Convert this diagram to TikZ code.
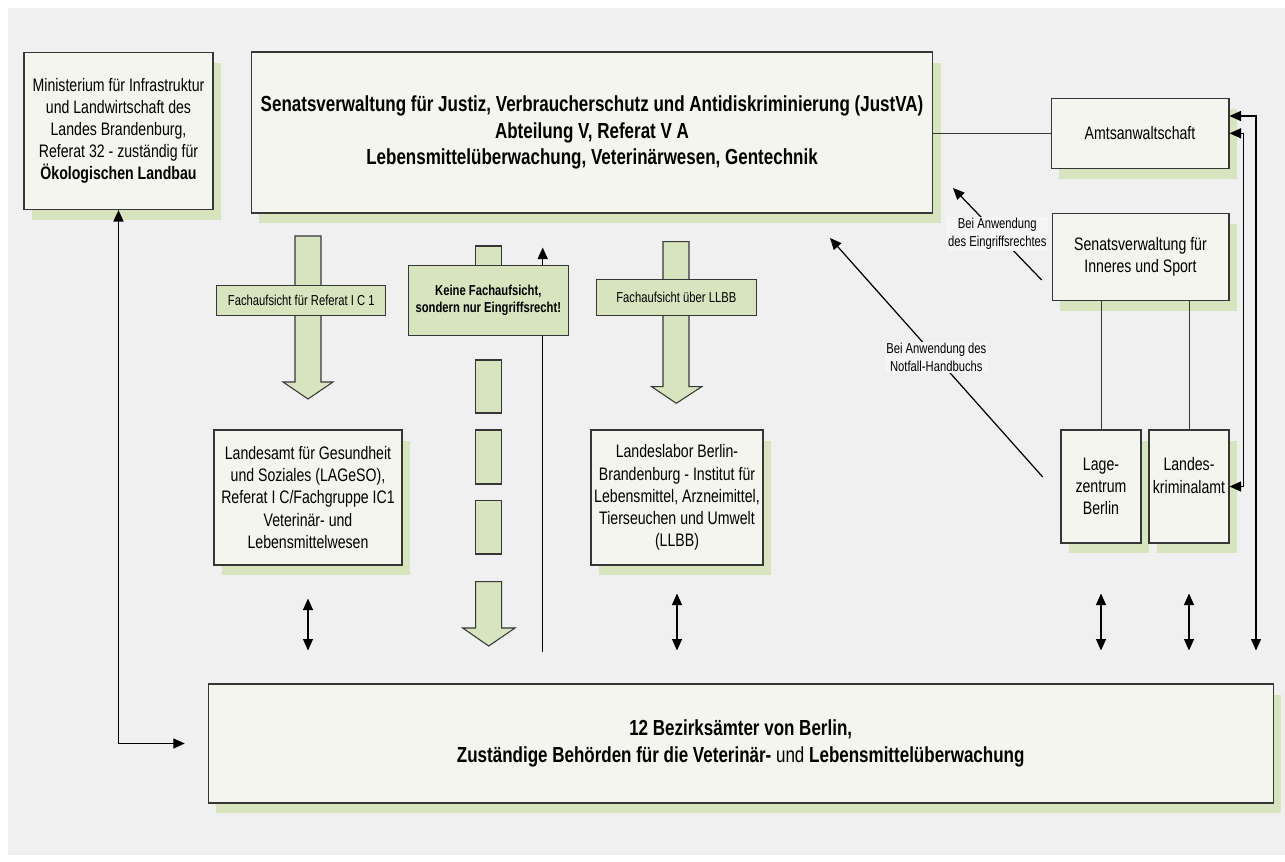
\documentclass[tikz,border=0pt]{standalone}
\usepackage{fontspec}
\setmainfont{Liberation Sans}[FakeStretch=0.78]
\usetikzlibrary{arrows.meta}
\usetikzlibrary{shadows}

\definecolor{bggray}{HTML}{F0F0F0}
\definecolor{notebg}{HTML}{F5F5F5}
\definecolor{boxfill}{HTML}{F4F5EF}
\definecolor{boxline}{HTML}{363636}
\definecolor{shadowgreen}{HTML}{D7E4BD}
\definecolor{arrowgreen}{HTML}{D7E4BD}

\newcommand{\boxfont}{\fontsize{10.3}{12.6}\selectfont}
\newcommand{\lblfont}{\fontsize{8.2}{10}\selectfont}
\newcommand{\headfont}{\fontsize{12.4}{15}\selectfont\bfseries}

\begin{document}
\begin{tikzpicture}[x=0.02cm, y=-0.02cm,
    >={Triangle[length=2.3mm, width=2mm]},
    box/.style={draw=boxline, fill=boxfill, line width=0.6pt, align=center, inner sep=1pt, font=\boxfont,
      general shadow={fill=shadowgreen, shadow xshift=0.16cm, shadow yshift=-0.21cm}},
    tag/.style={draw=boxline, fill=arrowgreen, line width=0.6pt, align=center, inner sep=1pt, font=\lblfont},
    blockarrow/.style={draw=boxline, fill=arrowgreen, line width=0.6pt},
    conn/.style={line width=0.8pt},
    dbl/.style={line width=0.6pt, <->},
    plain/.style={line width=0.5pt, draw=boxline},
    note/.style={font=\lblfont, align=center, fill=notebg, inner sep=1pt}]

      \useasboundingbox (0,0) rectangle (1285,862);
      \fill[bggray] (8,8) rectangle (1285,855);

      % offices
      \node[box, minimum width=3.78cm, minimum height=3.14cm] (min) at (118.5,131) {Ministerium für Infrastruktur\\und Landwirtschaft des\\Landes Brandenburg,\\Referat 32 - zuständig für\\\textbf{Ökologischen Landbau}};
      \node[box, minimum width=13.64cm, minimum height=3.22cm, font=\headfont] (just) at (592,132.5) {Senatsverwaltung für Justiz, Verbraucherschutz und Antidiskriminierung (JustVA)\\Abteilung V, Referat V A\\Lebensmittelüberwachung, Veterinärwesen, Gentechnik};
      \node[box, minimum width=3.56cm, minimum height=1.4cm] (amts) at (1140,133.3) {Amtsanwaltschaft};
      \node[box, minimum width=3.54cm, minimum height=1.74cm] (inneres) at (1140.5,256.7) {Senatsverwaltung für\\Inneres und Sport};
      \node[box, minimum width=1.6cm, minimum height=2.26cm] (lage) at (1101,486.5) {Lage-\\zentrum\\Berlin};
      \node[box, minimum width=1.6cm, minimum height=2.26cm] (lka) at (1189,486.5) {Landes-\\kriminalamt\\\mbox{}};
      \node[box, minimum width=3.76cm, minimum height=2.7cm] (lageso) at (308,497.5) {Landesamt für Gesundheit\\und Soziales (LAGeSO),\\Referat I C/Fachgruppe IC1\\Veterinär- und\\Lebensmittelwesen};
      \node[box, minimum width=3.44cm, minimum height=2.7cm] (llbb) at (677,497.5) {Landeslabor Berlin-\\Brandenburg - Institut für\\Lebensmittel, Arzneimittel,\\Tierseuchen und Umwelt\\(LLBB)};
      \node[box, minimum width=21.3cm, minimum height=2.38cm, font=\headfont] (bezirk) at (740.7,743.5) {12 Bezirksämter von Berlin,\\Zuständige Behörden für die Veterinär- {\mdseries und} Lebensmittelüberwachung};

      % Fachaufsicht arrows
      \draw[blockarrow] (295,236) -- (321,236) -- (321,382) -- (333,382) -- (308,399) -- (283,382) -- (295,382) -- cycle;
      \node[tag, minimum width=3.38cm, minimum height=0.59cm] (fa1) at (301.3,300.3) {Fachaufsicht für Referat I C 1};
      \draw[blockarrow] (663,241.7) -- (689,241.7) -- (689,386.7) -- (701.7,386.7) -- (676.3,403.3) -- (651.7,386.7) -- (663,386.7) -- cycle;
      \node[tag, minimum width=3.21cm, minimum height=0.73cm] (fa2) at (676.3,297.7) {Fachaufsicht über LLBB};

      % broken arrow
      \foreach \ya/\yb in {246/280, 360/413, 430/484, 500.7/554}
        \draw[blockarrow] (475.7,\ya) rectangle (501.7,\yb);
      \draw[blockarrow] (475.7,581.7) -- (501.7,581.7) -- (501.7,628) -- (515,628) -- (488.7,646) -- (462.7,628) -- (475.7,628) -- cycle;

      \coordinate (upfoot) at (542.7,651.7);
      \draw[conn, ->, shorten >=0.68cm] (upfoot) -- (upfoot |- just.south);
      \node[tag, font=\lblfont\bfseries, minimum width=3.2cm, minimum height=1.41cm] (keine) at (488.3,300.3) {Keine Fachaufsicht,\\sondern nur Eingriffsrecht!};

      % links to the districts
      \draw[conn, <->, shorten >=0.46cm] (min.south) |- (bezirk.west);
      \draw[dbl, shorten <=0.66cm, shorten >=0.66cm] (lageso.south) -- (lageso.south |- bezirk.north);
      \draw[dbl, shorten <=0.56cm, shorten >=0.66cm] (llbb.south) -- (llbb.south |- bezirk.north);
      \draw[dbl, shorten <=1cm, shorten >=0.66cm] (lage.south) -- (lage.south |- bezirk.north);
      \draw[dbl, shorten <=1cm, shorten >=0.66cm] (lka.south) -- (lka.south |- bezirk.north);

      \coordinate (railout) at (1256,116);
      \coordinate (railin) at (1243.3,133.3);
      \draw[conn, <->, shorten >=0.66cm] (railout -| amts.east) -- (railout) -- (railout |- bezirk.north);
      \draw[conn, <->] (amts.east) -- (railin) |- (lka.east);

      \draw[plain] (amts.west -| just.east) -- (amts.west);
      \draw[plain] (inneres.south -| lage.north) -- (lage.north);
      \draw[plain] (inneres.south -| lka.north) -- (lka.north);

      % emergency paths
      \coordinate (eingfoot) at (1041.7,280);
      \coordinate (einghead) at (953,188);
      \draw[conn, ->, line width=0.7pt] (eingfoot) -- node[note] (eingnote) {Bei Anwendung\\des Eingriffsrechtes} (einghead);
      \coordinate (notfoot) at (1042.7,477);
      \coordinate (nothead) at (830,238);
      \draw[conn, ->, line width=0.7pt] (notfoot) -- node[note] (notnote) {Bei Anwendung des\\Notfall-Handbuchs} (nothead);
    \end{tikzpicture}
\end{document}
